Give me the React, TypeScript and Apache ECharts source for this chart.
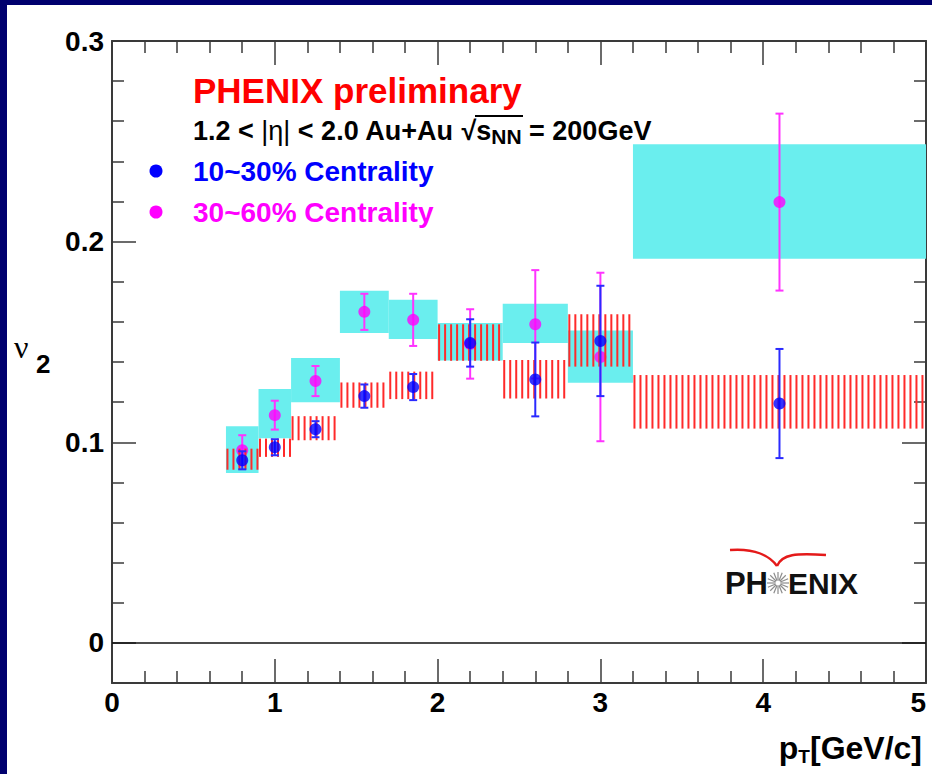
import React, { useEffect, useRef } from 'react';
import * as echarts from 'echarts';

// ---- data ----
const binLo = [0.7, 0.9, 1.1, 1.4, 1.7, 2.0, 2.4, 2.8, 3.2];
const binHi = [0.9, 1.1, 1.4, 1.7, 2.0, 2.4, 2.8, 3.2, 5.0];

// 10~30% centrality (blue points, red hatched systematics)
const ptBlue = [0.8, 1.0, 1.25, 1.55, 1.85, 2.2, 2.6, 3.0, 4.1];
const v2Blue = [0.091, 0.0975, 0.1065, 0.123, 0.1275, 0.1495, 0.1313, 0.1505, 0.1193];
const errBlue = [0.0045, 0.004, 0.004, 0.0058, 0.0065, 0.0118, 0.0184, 0.0275, 0.0272];
const sysBlueLo = [0.0863, 0.0927, 0.101, 0.1172, 0.1215, 0.1406, 0.1218, 0.1377, 0.1068];
const sysBlueHi = [0.0968, 0.1018, 0.113, 0.1298, 0.1352, 0.1588, 0.141, 0.1638, 0.1335];

// 30~60% centrality (magenta points, cyan systematics)
const ptMag = [0.8, 1.0, 1.25, 1.55, 1.85, 2.2, 2.6, 3.0, 4.1];
const v2Mag = [0.096, 0.1135, 0.1305, 0.165, 0.161, 0.149, 0.1588, 0.1425, 0.2197];
const errMag = [0.0075, 0.0072, 0.0075, 0.009, 0.013, 0.0173, 0.027, 0.042, 0.0441];
const sysMagLo = [0.0847, 0.102, 0.12, 0.1545, 0.1515, 0.1407, 0.1495, 0.1297, 0.1915];
const sysMagHi = [0.108, 0.1265, 0.142, 0.1755, 0.171, 0.1595, 0.169, 0.1557, 0.2485];

const yMajor = [0, 0.1, 0.2, 0.3];
const yMajorLabels = ['0', '0.1', '0.2', '0.3'];
const yMinor = [0.02, 0.04, 0.06, 0.08, 0.12, 0.14, 0.16, 0.18, 0.22, 0.24, 0.26, 0.28];

const seriesNames = ['10~30% Centrality', '30~60% Centrality'];

// ---- styles ----
const FONT = '"Liberation Sans", Arial, Helvetica, sans-serif';
const AX = '#3a3a3a';
const BLUE = '#0000ff';
const BLUE_ERR = '#2a2aff';
const MAG = '#ff00ff';
const MAG_ERR = '#ff33ff';
const RED = '#ff2a2a';
const CYAN = '#6aeeee';

const axLine = { color: AX, width: 2 };
const tickStyle = { color: AX, width: 1.5 };

function boxRenderer(fill: string) {
  return (params: any, api: any) => {
    const p0 = api.coord([api.value(0), api.value(3)]);
    const p1 = api.coord([api.value(1), api.value(2)]);
    return {
      type: 'rect',
      shape: { x: p0[0], y: p0[1], width: p1[0] - p0[0], height: p1[1] - p0[1] },
      style: { fill },
    };
  };
}

function hatchRenderer(stroke: string) {
  return (params: any, api: any) => {
    const p0 = api.coord([api.value(0), api.value(3)]);
    const p1 = api.coord([api.value(1), api.value(2)]);
    const children: any[] = [];
    for (let x = p0[0] + 1.5; x <= p1[0] - 1; x += 6) {
      children.push({
        type: 'line',
        shape: { x1: x, y1: p0[1], x2: x, y2: p1[1] },
        style: { stroke, lineWidth: 2 },
      });
    }
    return { type: 'group', children };
  };
}

function errRenderer(stroke: string) {
  return (params: any, api: any) => {
    const x = api.value(0);
    const y = api.value(1);
    const e = api.value(2);
    const top = api.coord([x, y + e]);
    const bot = api.coord([x, y - e]);
    const style = { stroke, lineWidth: 2 };
    return {
      type: 'group',
      children: [
        { type: 'line', shape: { x1: top[0], y1: top[1], x2: bot[0], y2: bot[1] }, style },
        { type: 'line', shape: { x1: top[0] - 4, y1: top[1], x2: top[0] + 4, y2: top[1] }, style },
        { type: 'line', shape: { x1: bot[0] - 4, y1: bot[1], x2: bot[0] + 4, y2: bot[1] }, style },
      ],
    };
  };
}

function buildOption(): any {
  const xBase = {
    type: 'value',
    min: 0,
    max: 5,
    interval: 1,
    axisLine: { show: true, onZero: false, lineStyle: axLine },
    axisTick: { show: true, inside: true, length: 24, lineStyle: tickStyle },
    minorTick: { show: true, splitNumber: 5, length: 12, lineStyle: tickStyle },
    splitLine: { show: false },
    minorSplitLine: { show: false },
  };
  const yBase = {
    type: 'value',
    min: -0.02,
    max: 0.3,
    splitLine: { show: false },
    axisLabel: { show: false },
  };

  const cx = 778;
  const cy = 583;
  const spokes = [] as any[];
  for (let i = 0; i < 16; i++) {
    const a = (i * Math.PI) / 8;
    spokes.push({
      type: 'line',
      shape: {
        x1: cx + 2.5 * Math.cos(a),
        y1: cy + 2.5 * Math.sin(a),
        x2: cx + 11 * Math.cos(a),
        y2: cy + 11 * Math.sin(a),
      },
      style: { stroke: '#8c8c8c', lineWidth: 1.2 },
    });
  }

  return {
    animation: false,
    backgroundColor: '#ffffff',
    grid: {
      left: 112,
      top: 41,
      width: 814,
      height: 642,
      containLabel: false,
      outerBoundsMode: 'none',
      show: false,
    },
    xAxis: [
      {
        ...xBase,
        position: 'bottom',
        axisLabel: {
          show: true,
          color: '#000',
          fontSize: 28,
          fontWeight: 'bold',
          fontFamily: FONT,
          margin: 5,
          showMinLabel: true,
          showMaxLabel: true,
          alignMaxLabel: 'right',
        },
      },
      { ...xBase, position: 'top', axisLabel: { show: false } },
    ],
    yAxis: [
      {
        ...yBase,
        position: 'left',
        axisLine: { show: true, onZero: false, lineStyle: axLine },
        axisTick: { show: true, inside: true, length: 24, customValues: yMajor, lineStyle: tickStyle },
        axisLabel: {
          show: true,
          customValues: yMajor,
          formatter: (v: number) => {
            let best = 0;
            yMajor.forEach((m, i) => {
              if (Math.abs(m - v) < Math.abs(yMajor[best] - v)) best = i;
            });
            return yMajorLabels[best];
          },
          color: '#000',
          fontSize: 28,
          fontWeight: 'bold',
          fontFamily: FONT,
          margin: 8,
        },
      },
      {
        ...yBase,
        position: 'left',
        axisLine: { show: false, onZero: false },
        axisTick: { show: true, inside: true, length: 12, customValues: yMinor, lineStyle: tickStyle },
      },
      {
        ...yBase,
        position: 'right',
        axisLine: { show: true, onZero: false, lineStyle: axLine },
        axisTick: { show: true, inside: true, length: 24, customValues: yMajor, lineStyle: tickStyle },
      },
      {
        ...yBase,
        position: 'right',
        axisLine: { show: false, onZero: false },
        axisTick: { show: true, inside: true, length: 12, customValues: yMinor, lineStyle: tickStyle },
      },
    ],
    series: [
      {
        name: seriesNames[1] + ' sys',
        type: 'custom',
        z: 1,
        xAxisIndex: 0,
        yAxisIndex: 0,
        renderItem: boxRenderer(CYAN),
        data: binLo.map((lo, i) => [lo, binHi[i], sysMagLo[i], sysMagHi[i]]),
        silent: true,
      },
      {
        name: seriesNames[1] + ' err',
        type: 'custom',
        z: 2,
        renderItem: errRenderer(MAG_ERR),
        data: ptMag.map((x, i) => [x, v2Mag[i], errMag[i]]),
        silent: true,
      },
      {
        name: seriesNames[1],
        type: 'scatter',
        z: 3,
        symbol: 'circle',
        symbolSize: 12,
        itemStyle: { color: MAG },
        data: ptMag.map((x, i) => [x, v2Mag[i]]),
        markLine: {
          silent: true,
          symbol: ['none', 'none'],
          label: { show: false },
          lineStyle: { color: '#111', width: 1.6, type: 'solid' },
          data: [{ yAxis: 0 }],
        },
      },
      {
        name: seriesNames[0] + ' sys',
        type: 'custom',
        z: 4,
        renderItem: hatchRenderer(RED),
        data: binLo.map((lo, i) => [lo, binHi[i], sysBlueLo[i], sysBlueHi[i]]),
        silent: true,
      },
      {
        name: seriesNames[0] + ' err',
        type: 'custom',
        z: 5,
        renderItem: errRenderer(BLUE_ERR),
        data: ptBlue.map((x, i) => [x, v2Blue[i], errBlue[i]]),
        silent: true,
      },
      {
        name: seriesNames[0],
        type: 'scatter',
        z: 6,
        symbol: 'circle',
        symbolSize: 12,
        itemStyle: { color: BLUE },
        data: ptBlue.map((x, i) => [x, v2Blue[i]]),
      },
    ],
    graphic: [
      { type: 'rect', z: 100, shape: { x: 0, y: 0, width: 7, height: 774 }, style: { fill: '#00006e' } },
      { type: 'rect', z: 100, shape: { x: 0, y: 0, width: 932, height: 5 }, style: { fill: '#00006e' } },
      {
        type: 'text',
        z: 100,
        x: 193,
        y: 90,
        style: {
          text: 'PHENIX preliminary',
          fill: '#ff0000',
          fontSize: 35,
          fontWeight: 'bold',
          fontFamily: FONT,
          verticalAlign: 'middle',
        },
      },
      {
        type: 'text',
        z: 100,
        x: 193,
        y: 131,
        style: {
          text: '{a|1.2 < }{e||η|}{a| < 2.0 Au+Au }{a|√}{a|s}{s|NN}{a| = 200GeV}',
          verticalAlign: 'middle',
          rich: {
            a: { fontSize: 27, fontWeight: 'bold', fontFamily: FONT, fill: '#000', lineHeight: 31 },
            e: { fontSize: 27, fontWeight: 'normal', fontFamily: FONT, fill: '#000', lineHeight: 31 },
            s: { fontSize: 21, fontWeight: 'bold', fontFamily: FONT, fill: '#000', lineHeight: 31, verticalAlign: 'bottom' },
          },
        },
      },
      {
        type: 'line',
        z: 100,
        shape: { x1: 475, y1: 116, x2: 523, y2: 116 },
        style: { stroke: '#000', lineWidth: 2 },
      },
      { type: 'circle', z: 100, shape: { cx: 156, cy: 171, r: 6.5 }, style: { fill: BLUE } },
      { type: 'circle', z: 100, shape: { cx: 156, cy: 212, r: 6.5 }, style: { fill: MAG } },
      {
        type: 'text',
        z: 100,
        x: 193,
        y: 171,
        style: { text: seriesNames[0], fill: BLUE, fontSize: 28, fontWeight: 'bold', fontFamily: FONT, verticalAlign: 'middle' },
      },
      {
        type: 'text',
        z: 100,
        x: 193,
        y: 212,
        style: { text: seriesNames[1], fill: MAG, fontSize: 28, fontWeight: 'bold', fontFamily: FONT, verticalAlign: 'middle' },
      },
      {
        type: 'text',
        z: 100,
        x: 14,
        y: 347,
        style: { text: 'ν', fill: '#000', fontSize: 32, fontFamily: '"Liberation Serif", serif', verticalAlign: 'middle' },
      },
      {
        type: 'text',
        z: 100,
        x: 36,
        y: 364,
        style: { text: '2', fill: '#000', fontSize: 26, fontWeight: 'bold', fontFamily: FONT, verticalAlign: 'middle' },
      },
      {
        type: 'text',
        z: 100,
        x: 922,
        y: 748,
        style: {
          text: '{p|p}{t|T}{p|[GeV/c]}',
          align: 'right',
          verticalAlign: 'middle',
          rich: {
            p: { fontSize: 32, fontWeight: 'bold', fontFamily: FONT, fill: '#000', lineHeight: 36 },
            t: { fontSize: 19, fontWeight: 'bold', fontFamily: FONT, fill: '#000', lineHeight: 36, verticalAlign: 'bottom' },
          },
        },
      },
      // PHENIX logo
      {
        type: 'bezierCurve',
        z: 100,
        shape: { x1: 730, y1: 550, cpx1: 755, cpy1: 548, cpx2: 770, cpy2: 556, x2: 777, y2: 566 },
        style: { stroke: '#e41a1a', lineWidth: 2.4, fill: 'none' },
      },
      {
        type: 'bezierCurve',
        z: 100,
        shape: { x1: 777, y1: 566, cpx1: 782, cpy1: 554, cpx2: 796, cpy2: 553, x2: 826, y2: 555 },
        style: { stroke: '#e41a1a', lineWidth: 2.4, fill: 'none' },
      },
      {
        type: 'text',
        z: 100,
        x: 768,
        y: 583,
        style: { text: 'PH', fill: '#111', fontSize: 31, fontWeight: 'bold', fontFamily: FONT, align: 'right', verticalAlign: 'middle' },
      },
      {
        type: 'text',
        z: 100,
        x: 788,
        y: 583,
        style: { text: 'ENIX', fill: '#111', fontSize: 30, fontWeight: 'bold', fontFamily: FONT, verticalAlign: 'middle' },
      },
      { type: 'group', z: 100, children: spokes },
    ],
  };
}

export default function App() {
  const ref = useRef<HTMLDivElement>(null);
  useEffect(() => {
    if (!ref.current) return;
    const chart = echarts.init(ref.current, null, { renderer: 'svg' });
    chart.setOption(buildOption());
    return () => chart.dispose();
  }, []);
  return (
    <div
      ref={ref}
      style={{ position: 'fixed', left: 0, top: 0, width: 932, height: 774, background: '#fff' }}
    />
  );
}
